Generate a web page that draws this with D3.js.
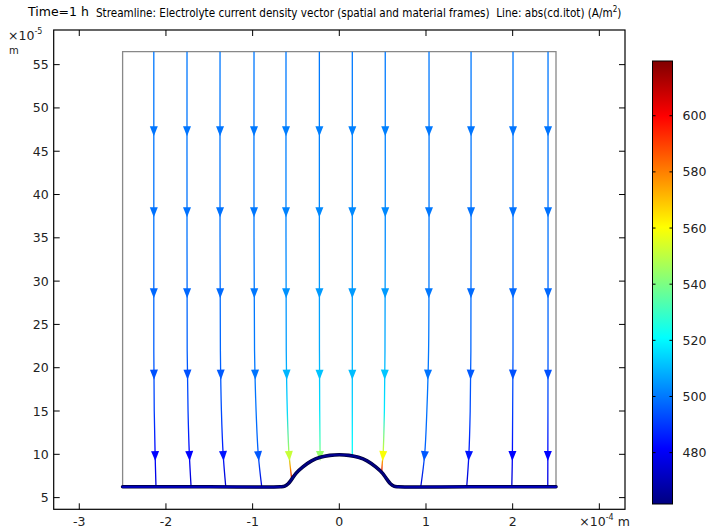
<!DOCTYPE html>
<html>
<head>
<meta charset="utf-8">
<script src="https://cdn.jsdelivr.net/npm/d3@7"></script>
<style>
    body { margin: 0; background: #fff; }
    svg { display: block; font-family: "DejaVu Sans", sans-serif; }
</style>
</head>
<body>
<div id="chartContainer"></div>
<script>
// x in units of 1e-4 m, y in units of 1e-5 m
const xTicks = [-3, -2, -1, 0, 1, 2, 3];
const yTicks = [5, 10, 15, 20, 25, 30, 35, 40, 45, 50, 55];
const colorTicks = [480, 500, 520, 540, 560, 580, 600];
const colorRange = [461.7, 619.5];

const boxX = [-2.5, 2.5];
const boxY = [6.25, 56.5];

// electrode surface: x, y, abs(cd.itot)
const surfaceX = [-2.5, -1.5, -0.68, -0.63, -0.59, -0.55, -0.5, -0.42, -0.32, -0.22, -0.11, 0, 0.11, 0.22, 0.32, 0.42, 0.5, 0.55, 0.59, 0.63, 0.68, 1.5, 2.5];
const surfaceY = [6.25, 6.25, 6.25, 6.32, 6.6, 7.1, 7.8, 8.55, 9.25, 9.65, 9.88, 9.95, 9.88, 9.65, 9.25, 8.55, 7.8, 7.1, 6.6, 6.32, 6.25, 6.25, 6.25];
const surfaceV = [470, 470, 466, 461, 461, 462, 462, 462, 462, 463, 464, 464, 464, 463, 462, 462, 462, 462, 461, 461, 466, 470, 470];

// streamlines: [x, y, value]
const streamlines = [
    [[-2.14, 56.5, 500], [-2.14, 35, 499], [-2.14, 22, 496], [-2.135, 15, 491], [-2.125, 10, 482], [-2.115, 6.25, 476]],
    [[-1.757, 56.5, 500], [-1.757, 35, 499], [-1.755, 22, 496], [-1.745, 15, 491], [-1.73, 10, 482], [-1.71, 6.25, 474]],
    [[-1.376, 56.5, 500], [-1.376, 35, 499], [-1.372, 22, 497], [-1.36, 15, 493], [-1.34, 10, 485], [-1.31, 6.25, 474]],
    [[-0.984, 56.5, 500], [-0.984, 35, 500], [-0.978, 22, 500], [-0.96, 15, 499], [-0.935, 10, 496], [-0.895, 6.25, 476]],
    [[-0.615, 56.5, 500], [-0.615, 35, 502], [-0.612, 22, 506], [-0.6, 15, 515], [-0.58, 10, 548], [-0.565, 8.5, 575], [-0.549, 7.1, 605]],
    [[-0.23, 56.5, 500], [-0.23, 35, 503], [-0.229, 22, 508], [-0.226, 15, 517], [-0.223, 11.5, 532], [-0.222, 9.65, 545]],
    [[0.15, 56.5, 500], [0.15, 35, 503], [0.15, 22, 508], [0.15, 15, 515], [0.15, 11.5, 520], [0.15, 9.88, 523]],
    [[0.53, 56.5, 500], [0.53, 35, 503], [0.527, 22, 508], [0.52, 15, 518], [0.505, 10, 555], [0.495, 8.9, 580], [0.49, 8.0, 605]],
    [[1.035, 56.5, 500], [1.035, 35, 500], [1.03, 22, 500], [1.01, 15, 499], [0.985, 10, 496], [0.94, 6.25, 476]],
    [[1.52, 56.5, 500], [1.52, 35, 499], [1.518, 22, 497], [1.51, 15, 493], [1.495, 10, 485], [1.47, 6.25, 474]],
    [[2.004, 56.5, 500], [2.004, 35, 499], [2.004, 22, 496], [2.0, 15, 491], [1.997, 10, 482], [1.99, 6.25, 474]],
    [[2.408, 56.5, 500], [2.408, 35, 499], [2.408, 22, 496], [2.407, 15, 491], [2.406, 10, 482], [2.405, 6.25, 476]]
];
const arrowY = [47.3, 37.95, 28.6, 19.2, 9.8];

const jetStops = [0, 0.125, 0.375, 0.625, 0.875, 1];
const jetColors = ["#000080", "#0000ff", "#00ffff", "#ffff00", "#ff0000", "#800000"];

const width = 716, height = 532;
const frame = { left: 53.7, right: 625, top: 30, bottom: 509.3 };

const svg = d3.select("#chartContainer")
    .append("svg")
    .attr("width", width)
    .attr("height", height);
const defs = svg.append("defs");

const x = d3.scaleLinear().domain([-3.295, 3.296]).range([frame.left, frame.right]);
const y = d3.scaleLinear().domain([3.65, 59.0]).range([frame.bottom, frame.top]);

const jet = d3.scaleLinear()
    .domain(jetStops.map(t => colorRange[0] + t * (colorRange[1] - colorRange[0])))
    .range(jetColors)
    .clamp(true);

// titles
svg.append("text").attr("x", 28).attr("y", 16).attr("font-size", 12.5).text("Time=1 h");
svg.append("text").attr("x", 96).attr("y", 17)
    .attr("font-family", "'DejaVu Sans Condensed', sans-serif").attr("font-size", 11.6)
    .html("Streamline: Electrolyte current density vector (spatial and material frames)&#160;&#160;Line: abs(cd.itot) (A/m<tspan dy='-5' font-size='8'>2</tspan><tspan dy='5'>)</tspan>");

// frame and ticks
svg.append("rect")
    .attr("x", frame.left).attr("y", frame.top)
    .attr("width", frame.right - frame.left).attr("height", frame.bottom - frame.top)
    .attr("fill", "none").attr("stroke", "#000").attr("stroke-width", 1.2);

const tickLen = 6;
const ticks = svg.append("g").attr("stroke", "#000").attr("stroke-width", 1);
yTicks.forEach(v => {
    ticks.append("line").attr("x1", frame.left).attr("x2", frame.left + tickLen).attr("y1", y(v)).attr("y2", y(v));
    ticks.append("line").attr("x1", frame.right).attr("x2", frame.right - tickLen).attr("y1", y(v)).attr("y2", y(v));
});
xTicks.forEach(v => {
    ticks.append("line").attr("y1", frame.bottom).attr("y2", frame.bottom - tickLen).attr("x1", x(v)).attr("x2", x(v));
    ticks.append("line").attr("y1", frame.top).attr("y2", frame.top + tickLen).attr("x1", x(v)).attr("x2", x(v));
});

svg.selectAll(".ylabel")
    .data(yTicks)
    .enter().append("text")
    .attr("x", frame.left - 5)
    .attr("y", d => y(d) + 4.5)
    .attr("text-anchor", "end")
    .attr("font-size", 12.5)
    .attr("fill", "#222")
    .text(d => d);

svg.selectAll(".xlabel")
    .data(xTicks.slice(0, -1))
    .enter().append("text")
    .attr("x", d => x(d))
    .attr("y", frame.bottom + 17)
    .attr("text-anchor", "middle")
    .attr("font-size", 12.5)
    .attr("fill", "#222")
    .text(d => d);

svg.append("text").attr("x", x(3) - 20).attr("y", frame.bottom + 17).attr("font-size", 12.5).attr("fill", "#222")
    .html("×10<tspan dy='-6' font-size='8'>-4</tspan><tspan dy='6'> m</tspan>");
svg.append("text").attr("x", 8).attr("y", 40).attr("font-size", 12.5).attr("fill", "#222")
    .html("×10<tspan dy='-6' font-size='8'>-5</tspan>");
svg.append("text").attr("x", 9).attr("y", 54).attr("font-size", 10).attr("fill", "#222").text("m");

// geometry box
const plot = svg.append("g");
plot.append("path")
    .attr("d", `M${x(boxX[0])},${y(boxY[0])}V${y(boxY[1])}H${x(boxX[1])}V${y(boxY[0])}`)
    .attr("fill", "none")
    .attr("stroke", "#888")
    .attr("stroke-width", 1.3);

// streamlines with color gradients along y
const line = d3.line().x(d => x(d[0])).y(d => y(d[1])).curve(d3.curveCatmullRom);

streamlines.forEach((pts, i) => {
    const y0 = y(pts[0][1]), y1 = y(pts[pts.length - 1][1]);
    const grad = defs.append("linearGradient")
        .attr("id", "sl" + i)
        .attr("gradientUnits", "userSpaceOnUse")
        .attr("x1", 0).attr("x2", 0)
        .attr("y1", y0).attr("y2", y1);
    grad.selectAll("stop")
        .data(pts)
        .enter().append("stop")
        .attr("offset", d => (y(d[1]) - y0) / (y1 - y0))
        .attr("stop-color", d => jet(d[2]));

    plot.append("path")
        .attr("d", line(pts))
        .attr("fill", "none")
        .attr("stroke", `url(#sl${i})`)
        .attr("stroke-width", 1.3);

    const ys = pts.map(p => p[1]).reverse();
    const xs = pts.map(p => p[0]).reverse();
    const vs = pts.map(p => p[2]).reverse();
    const xAt = d3.scaleLinear().domain(ys).range(xs);
    const vAt = d3.scaleLinear().domain(ys).range(vs);

    arrowY.filter(a => a > ys[0]).forEach(a => {
        const ax = x(xAt(a)), ay = y(a);
        const dx = x(xAt(a - 1)) - x(xAt(a + 1));
        const dy = y(a - 1) - y(a + 1);
        const ang = Math.atan2(dx, dy) * 180 / Math.PI;
        plot.append("path")
            .attr("d", "M-4,-5L4,-5L0,5Z")
            .attr("transform", `translate(${ax},${ay}) rotate(${-ang})`)
            .attr("fill", jet(vAt(a)));
    });
});

// electrode surface line
const surf = surfaceX.map((v, i) => [v, surfaceY[i], surfaceV[i]]);
const sgrad = defs.append("linearGradient")
    .attr("id", "surf")
    .attr("gradientUnits", "userSpaceOnUse")
    .attr("x1", x(boxX[0])).attr("x2", x(boxX[1]))
    .attr("y1", 0).attr("y2", 0);
sgrad.selectAll("stop")
    .data(surf)
    .enter().append("stop")
    .attr("offset", d => (x(d[0]) - x(boxX[0])) / (x(boxX[1]) - x(boxX[0])))
    .attr("stop-color", d => jet(d[2]));

plot.append("path")
    .attr("d", line(surf))
    .attr("fill", "none")
    .attr("stroke", "#00003a")
    .attr("stroke-width", 3.6)
    .attr("stroke-linecap", "round");
plot.append("path")
    .attr("d", line(surf))
    .attr("fill", "none")
    .attr("stroke", "url(#surf)")
    .attr("stroke-width", 2.2)
    .attr("stroke-linecap", "round");

// color legend
const cb = { x: 652.5, w: 20, top: 61, bottom: 504 };
const c = d3.scaleLinear().domain(colorRange).range([cb.bottom, cb.top]);

const cgrad = defs.append("linearGradient")
    .attr("id", "cbar")
    .attr("x1", 0).attr("x2", 0).attr("y1", 1).attr("y2", 0);
cgrad.selectAll("stop")
    .data(jetStops)
    .enter().append("stop")
    .attr("offset", d => d)
    .attr("stop-color", (d, i) => jetColors[i]);

svg.append("rect")
    .attr("x", cb.x).attr("y", cb.top)
    .attr("width", cb.w).attr("height", cb.bottom - cb.top)
    .attr("fill", "url(#cbar)")
    .attr("stroke", "#000")
    .attr("stroke-width", 1);

colorTicks.forEach(v => {
    svg.append("line").attr("x1", cb.x).attr("x2", cb.x + 3).attr("y1", c(v)).attr("y2", c(v)).attr("stroke", "#000");
    svg.append("line").attr("x1", cb.x + cb.w).attr("x2", cb.x + cb.w - 3).attr("y1", c(v)).attr("y2", c(v)).attr("stroke", "#000");
});

svg.selectAll(".clabel")
    .data(colorTicks)
    .enter().append("text")
    .attr("x", cb.x + cb.w + 10)
    .attr("y", d => c(d) + 4.5)
    .attr("font-size", 12.5)
    .attr("fill", "#222")
    .text(d => d);
</script>
</body>
</html>
